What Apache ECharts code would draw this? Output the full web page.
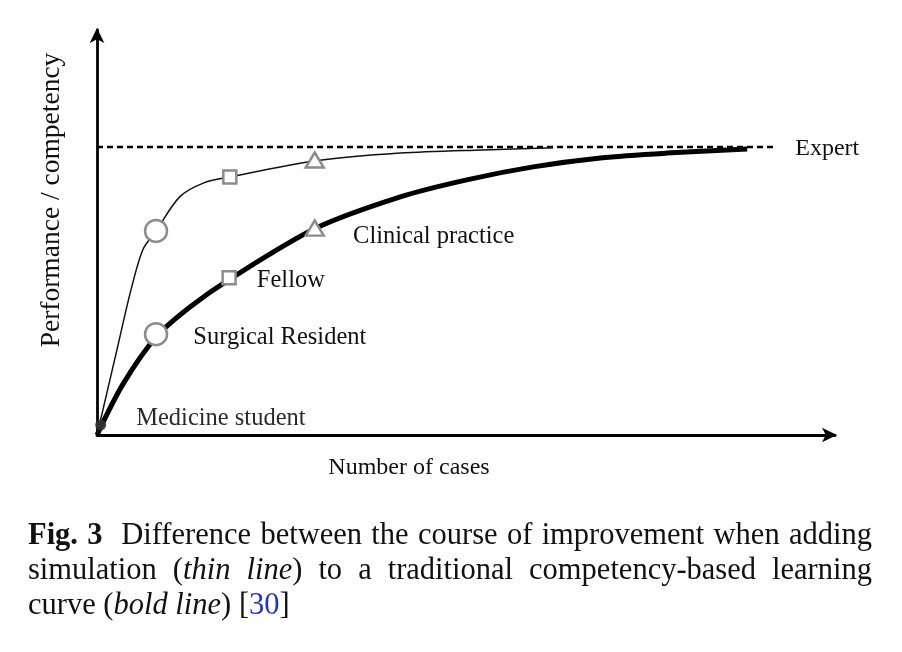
<!DOCTYPE html>
<html>
<head>
<meta charset="utf-8">
<script src="https://cdn.jsdelivr.net/npm/echarts@6/dist/echarts.min.js"></script>
<style>
  html, body { margin: 0; padding: 0; background: #fff; }
  #chart { position: absolute; left: 0; top: 0; width: 902px; height: 652px; }
  #cap { position: absolute; left: 28px; top: 517px; width: 844px;
         font-family: 'Liberation Serif', 'DejaVu Serif', serif; font-size: 30.5px;
         line-height: 35px; color: #111; white-space: nowrap; }
  #cap .j { text-align: justify; text-align-last: justify; }
  #cap .ref { color: #2233cc; }
</style>
</head>
<body>
<div id="chart"></div>
<div id="cap">
  <div class="j"><b>Fig. 3</b>&nbsp; Difference between the course of improvement when adding</div>
  <div class="j">simulation (<i>thin line</i>) to a traditional competency-based learning</div>
  <div>curve (<i>bold line</i>) [<span class="ref">30</span>]</div>
</div>
<script>
// traditional learning curve (bold)
const boldX = [0, 3.5, 8.1, 12.6, 18.0, 29.7, 41.1, 50.1, 59.1, 68.2, 77.2, 88.1];
const boldY = [0, 12.5, 24.4, 31.6, 38.5, 51.1, 58.8, 63.0, 66.2, 68.4, 69.6, 70.6];
// with simulation (thin)
const thinX = [0, 0.8, 2.7, 4.5, 6.2, 8.0, 11.2, 14.4, 18.0, 29.7, 41.1, 52.3, 61.8];
const thinY = [0, 6.2, 21.0, 35.1, 45.7, 50.4, 58.8, 62.2, 63.7, 67.7, 69.6, 70.4, 70.9];
// milestones
const stageNames = ['Medicine student', 'Surgical Resident', 'Fellow', 'Clinical practice'];
const stageBoldX = [0.5, 8.0, 17.9, 29.5];
const stageBoldY = [2.5, 24.9, 38.8, 51.1];
const stageThinX = [8.0, 18.0, 29.5];
const stageThinY = [50.4, 63.7, 67.9];
const expertLevel = 71.1;
const expertEndX = 91.9;

const serif = "'Liberation Serif', 'DejaVu Serif', serif";
const grey = '#8c8c8c';

const zip = (xs, ys) => xs.map((x, i) => [x, ys[i]]);

const markerStyle = { color: '#fff', borderColor: grey, borderWidth: 2.5, opacity: 1 };
const boldSymbols = ['circle', 'circle', 'rect', 'triangle'];
const thinSymbols = ['circle', 'rect', 'triangle'];
const symSizes = { circle: 22, rect: 13, triangle: [18, 15] };
// label nudges next to each milestone
const labelOffsets = [[0, -6], [0, 3], [0, 3], [0, 9]];
const labelDist = [30, 25, 20, 28];

const myChart = echarts.init(document.getElementById('chart'));

const axisCommon = {
  type: 'value',
  min: 0,
  max: 100,
  axisLine: {
    show: true,
    symbol: ['none', 'arrow'],
    symbolSize: [11, 15],
    symbolOffset: [0, 2],
    lineStyle: { color: '#000', width: 2.8 },
  },
  axisTick: { show: false },
  axisLabel: { show: false },
  splitLine: { show: false },
};

const option = {
  animation: false,
  grid: { left: 97, top: 30, width: 738, height: 405 },
  xAxis: Object.assign({}, axisCommon),
  yAxis: Object.assign({}, axisCommon),
  graphic: [
    {
      type: 'text', x: 52, y: 200, rotation: Math.PI / 2,
      style: { text: 'Performance / competency', align: 'center', verticalAlign: 'middle',
               font: '27.5px ' + serif, fill: '#111' },
    },
    {
      type: 'text', x: 409, y: 468,
      style: { text: 'Number of cases', align: 'center', verticalAlign: 'middle',
               font: '24px ' + serif, fill: '#111' },
    },
  ],
  series: [
    {
      name: 'Expert',
      type: 'line',
      data: [[0, expertLevel], [expertEndX, expertLevel]],
      symbol: 'none',
      lineStyle: { color: '#000', width: 2.5, type: [6, 4] },
      endLabel: { show: true, formatter: 'Expert', distance: 20,
                  fontFamily: serif, fontSize: 24, color: '#111', offset: [0, 2] },
      silent: true,
    },
    {
      name: 'bold',
      type: 'line',
      data: zip(boldX, boldY),
      smooth: 0.3,
      symbol: 'none',
      lineStyle: { color: '#000', width: 5 },
      silent: true,
    },
    {
      name: 'thin',
      type: 'line',
      data: zip(thinX, thinY),
      smooth: 0.3,
      symbol: 'none',
      lineStyle: { color: '#111', width: 1.5 },
      silent: true,
    },
    {
      name: 'stagesBold',
      type: 'scatter',
      z: 5,
      data: stageBoldX.map((x, i) => {
        const sym = boldSymbols[i];
        const first = i === 0;
        return {
          value: [x, stageBoldY[i]],
          name: stageNames[i],
          symbol: sym,
          symbolSize: first ? 11 : symSizes[sym],
          itemStyle: first ? { color: '#333', opacity: 0.9 } : markerStyle,
          label: {
            show: true, position: 'right', formatter: '{b}',
            distance: labelDist[i], offset: labelOffsets[i],
            fontFamily: serif, fontSize: 24.5, color: '#111',
          },
        };
      }),
      silent: true,
    },
    {
      name: 'stagesThin',
      type: 'scatter',
      z: 5,
      data: stageThinX.map((x, i) => ({
        value: [x, stageThinY[i]],
        symbol: thinSymbols[i],
        symbolSize: symSizes[thinSymbols[i]],
        itemStyle: markerStyle,
      })),
      silent: true,
    },
  ],
};
myChart.setOption(option);
</script>
</body>
</html>
